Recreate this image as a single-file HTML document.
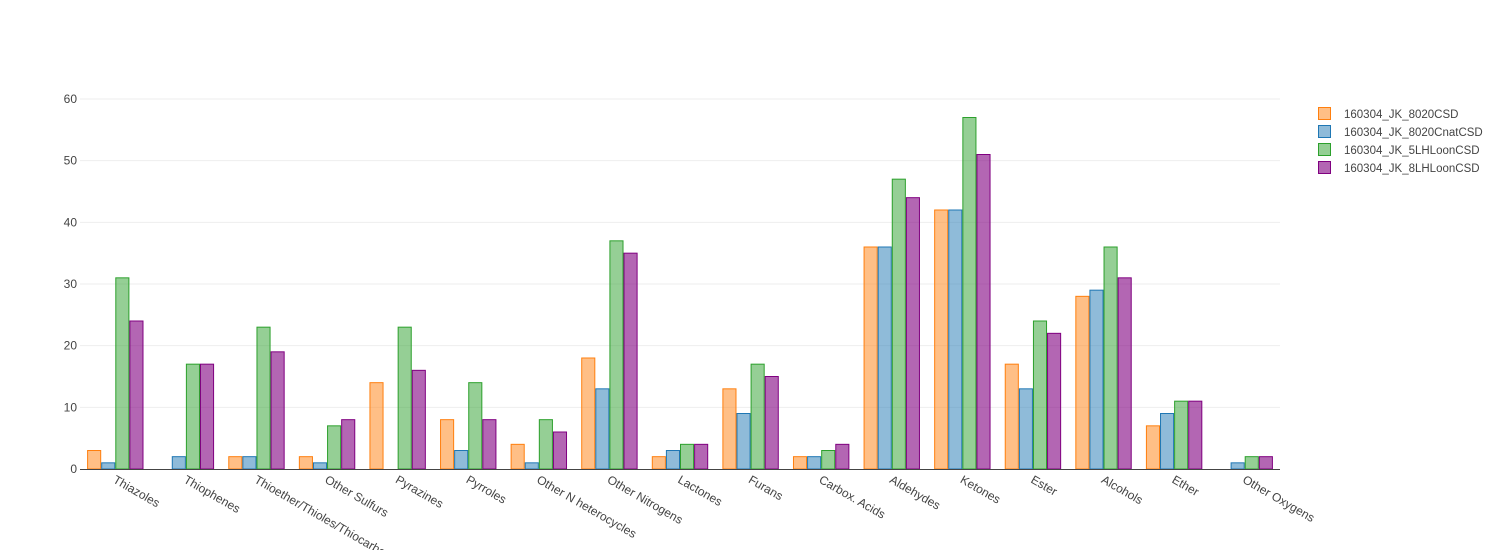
<!DOCTYPE html>
<html><head><meta charset="utf-8"><style>
html,body{margin:0;padding:0;background:#fff;}
svg{display:block;font-family:"Liberation Sans",sans-serif;}
</style></head><body>
<svg id="c" width="1500" height="550" xmlns="http://www.w3.org/2000/svg"></svg>
<script>
const svg=document.getElementById('c');
const NS='http://www.w3.org/2000/svg';
function el(t,a,txt){const e=document.createElementNS(NS,t);for(const k in a)e.setAttribute(k,a[k]);if(txt!==undefined)e.textContent=txt;svg.appendChild(e);return e;}
const x0=80,x1=1280,y0=469,ppu=370/60;
for(let v=0;v<=60;v+=10){const y=y0-v*ppu;
 if(v>0)el('line',{x1:x0,x2:x1,y1:y,y2:y,stroke:'#eee','stroke-width':1});
 el('text',{x:77,y:y+4,'text-anchor':'end','font-size':12,fill:'#444'},v);}
const cats=["Thiazoles","Thiophenes","Thioether/Thioles/Thiocarbonyls","Other Sulfurs","Pyrazines","Pyrroles","Other N heterocycles","Other Nitrogens","Lactones","Furans","Carbox. Acids","Aldehydes","Ketones","Ester","Alcohols","Ether","Other Oxygens"];
const d=[[3,1,31,24],[0,2,17,17],[2,2,23,19],[2,1,7,8],[14,0,23,16],[8,3,14,8],[4,1,8,6],[18,13,37,35],[2,3,4,4],[13,9,17,15],[2,2,3,4],[36,36,47,44],[42,42,57,51],[17,13,24,22],[28,29,36,31],[7,9,11,11],[0,1,2,2]];
const fills=['rgba(255,127,14,0.5)','rgba(31,119,180,0.5)','rgba(44,160,44,0.5)','rgba(128,0,128,0.6)'];
const strokes=['#ff7f0e','#1f77b4','#2ca02c','#800080'];
const cw=(x1-x0)/cats.length,bw=14.1;
cats.forEach((c,i)=>{const cx=x0+cw*(i+0.5);
 d[i].forEach((v,j)=>{if(!v)return;const x=cx-2*bw+j*bw,h=v*ppu;
  el('rect',{x:x+0.5,y:y0-h,width:bw-1,height:h,fill:fills[j],stroke:strokes[j],'stroke-width':1});});
 el('text',{x:0,y:0,'font-size':12,fill:'#444',transform:`translate(${cx-3},${y0+13}) rotate(30)`},c);
});
el('line',{x1:x0,x2:x1,y1:y0+0.5,y2:y0+0.5,stroke:'#444','stroke-width':1});
const names=["160304_JK_8020CSD","160304_JK_8020CnatCSD","160304_JK_5LHLoonCSD","160304_JK_8LHLoonCSD"];
names.forEach((n,j)=>{const y=114+j*18;
 el('rect',{x:1318.5,y:y-6.5,width:12,height:12,fill:fills[j],stroke:strokes[j],'stroke-width':1});
 el('text',{x:1344,y:y+4,'font-size':11.5,fill:'#444'},n);});
</script>
</body></html>
